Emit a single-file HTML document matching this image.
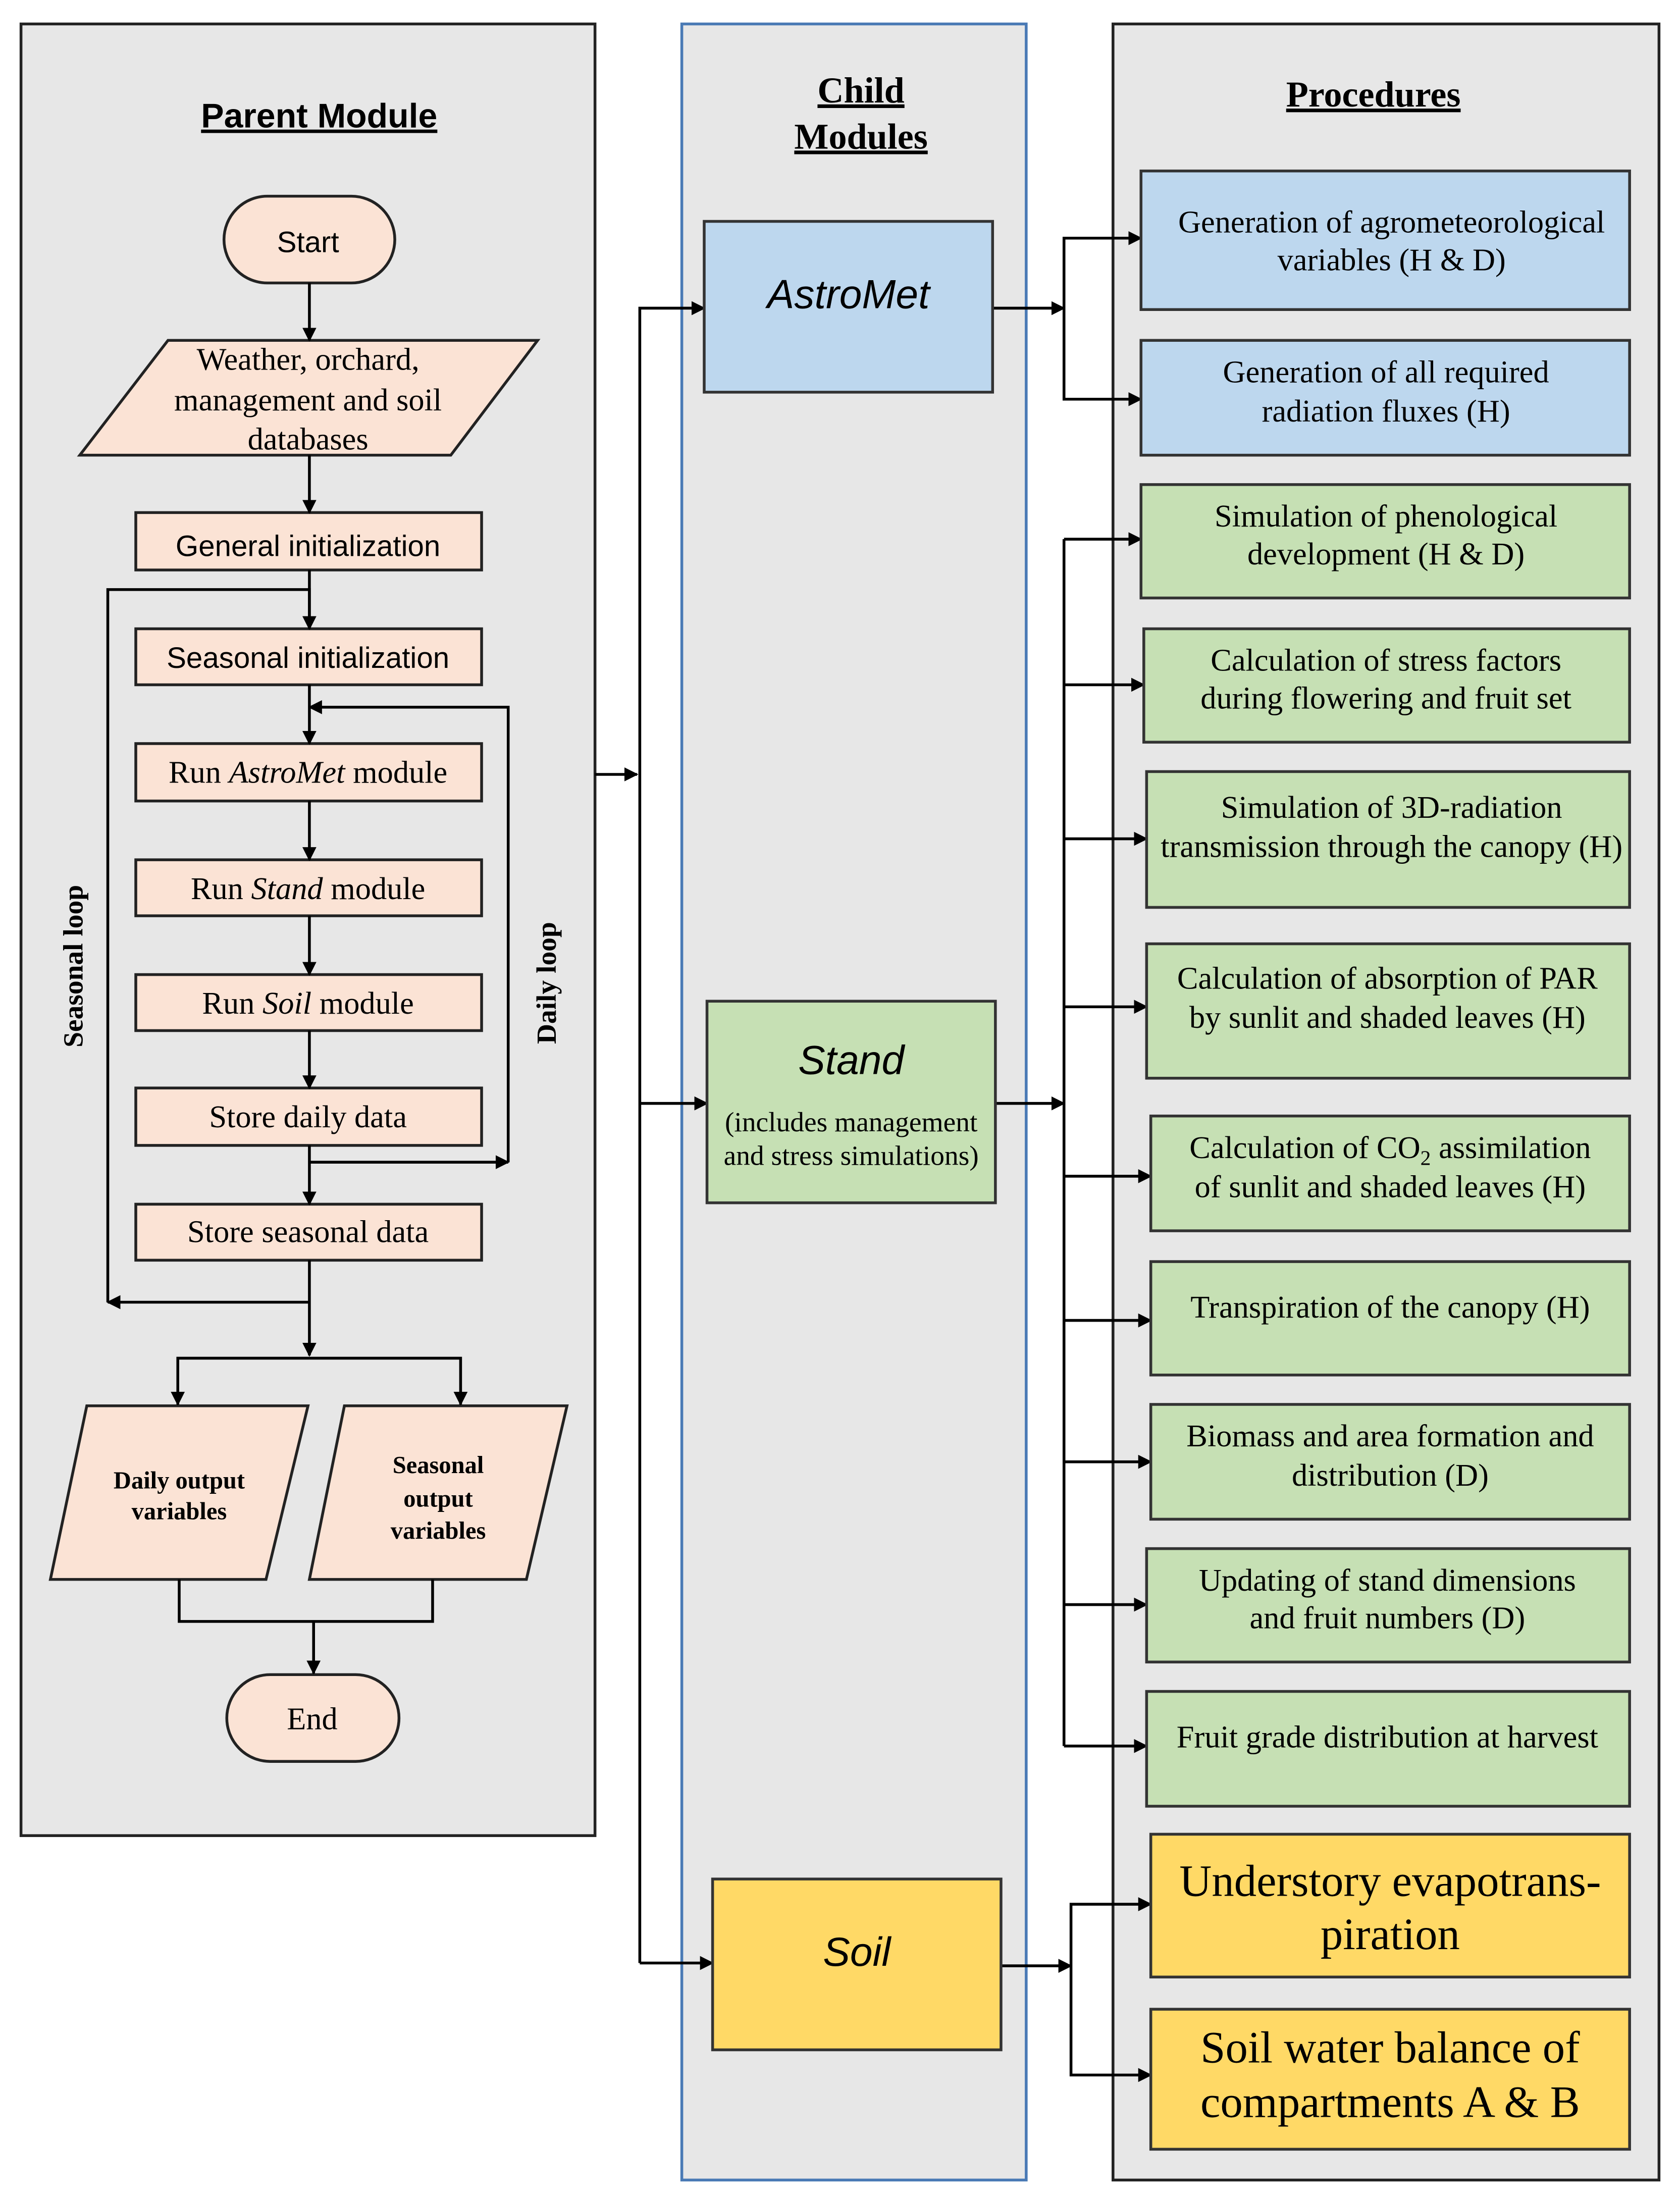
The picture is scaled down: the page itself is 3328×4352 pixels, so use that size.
<!DOCTYPE html>
<html><head><meta charset="utf-8"><style>
html,body{margin:0;padding:0;background:#fff}
svg{display:block}
.s{font-family:"Liberation Sans",sans-serif}
.r{font-family:"Liberation Serif",serif}
</style></head><body>
<svg width="3328" height="4352" viewBox="0 0 1200 1569" xmlns="http://www.w3.org/2000/svg">
<defs><marker id="a" markerWidth="10" markerHeight="10" refX="9" refY="5" orient="auto" markerUnits="userSpaceOnUse"><path d="M0,0 L10,5 L0,10 z" fill="#000"/></marker></defs>
<rect width="1200" height="1569" fill="#fff"/>
<rect x="15" y="17" width="410" height="1294" fill="#e7e7e7" stroke="#222" stroke-width="2"/>
<rect x="487" y="17" width="246" height="1540" fill="#e7e7e7" stroke="#4a7ab5" stroke-width="2"/>
<rect x="795" y="17" width="390" height="1540" fill="#e7e7e7" stroke="#222" stroke-width="2"/>

<text x="228" y="91" class="s" font-size="24.5" font-weight="bold" text-anchor="middle" text-decoration="underline">Parent Module</text>
<text x="615" y="73" class="r" font-size="26" font-weight="bold" text-anchor="middle" text-decoration="underline">Child</text>
<text x="615" y="106" class="r" font-size="26" font-weight="bold" text-anchor="middle" text-decoration="underline">Modules</text>
<text x="981" y="76" class="r" font-size="26" font-weight="bold" text-anchor="middle" text-decoration="underline">Procedures</text>

<g fill="#fbe3d5" stroke="#222" stroke-width="2">
<rect x="160" y="140" width="122" height="62" rx="31"/>
<polygon points="120,243 384,243 322,325 57,325"/>
<rect x="97" y="366" width="247" height="41"/>
<rect x="97" y="449" width="247" height="40"/>
<rect x="97" y="531" width="247" height="41"/>
<rect x="97" y="614" width="247" height="40"/>
<rect x="97" y="696" width="247" height="40"/>
<rect x="97" y="777" width="247" height="41"/>
<rect x="97" y="860" width="247" height="40"/>
<polygon points="62,1004 220,1004 190,1128 36,1128"/>
<polygon points="246,1004 405,1004 376,1128 221,1128"/>
<rect x="162" y="1196" width="123" height="62" rx="31"/>
</g>
<g font-size="22.5" text-anchor="middle">
<text x="220" y="180" class="s" font-size="21">Start</text>
<text x="220" y="264" class="r">Weather, orchard,</text>
<text x="220" y="293" class="r">management and soil</text>
<text x="220" y="321" class="r">databases</text>
<text x="220" y="397" class="s" font-size="21">General initialization</text>
<text x="220" y="477" class="s" font-size="21">Seasonal initialization</text>
<text x="220" y="559" class="r">Run <tspan font-style="italic">AstroMet</tspan> module</text>
<text x="220" y="642" class="r">Run <tspan font-style="italic">Stand</tspan> module</text>
<text x="220" y="724" class="r">Run <tspan font-style="italic">Soil</tspan> module</text>
<text x="220" y="805" class="r">Store daily data</text>
<text x="220" y="887" class="r">Store seasonal data</text>
<text x="223" y="1235" class="r">End</text>
</g>
<g class="r" font-size="17.5" font-weight="bold" text-anchor="middle">
<text x="128" y="1063">Daily output</text>
<text x="128" y="1085">variables</text>
<text x="313" y="1052">Seasonal</text>
<text x="313" y="1076">output</text>
<text x="313" y="1099">variables</text>
</g>
<text transform="translate(59,690) rotate(-90)" class="r" font-size="20" font-weight="bold" text-anchor="middle">Seasonal  loop</text>
<text transform="translate(397,702) rotate(-90)" class="r" font-size="20" font-weight="bold" text-anchor="middle">Daily  loop</text>

<g stroke="#000" stroke-width="2" fill="none" marker-end="url(#a)">
<line x1="221" y1="202" x2="221" y2="243"/>
<line x1="221" y1="325" x2="221" y2="366"/>
<line x1="221" y1="407" x2="221" y2="449"/>
<line x1="221" y1="489" x2="221" y2="531"/>
<line x1="221" y1="572" x2="221" y2="614"/>
<line x1="221" y1="654" x2="221" y2="696"/>
<line x1="221" y1="736" x2="221" y2="777"/>
<line x1="221" y1="818" x2="221" y2="860"/>
<line x1="221" y1="900" x2="221" y2="968"/>
<polyline points="221,930 77,930"/>
<polyline points="77,930 77,421 221,421 221,447" marker-end="none"/>
<polyline points="221,830 363,830"/>
<polyline points="363,830 363,505 221,505"/>
<polyline points="221,970 127,970 127,1003"/>
<polyline points="221,970 329,970 329,1003"/>
<polyline points="128,1128 128,1158 309,1158 309,1128" marker-end="none"/>
<line x1="224" y1="1158" x2="224" y2="1195"/>
<line x1="425" y1="553" x2="455" y2="553"/>
<polyline points="457,1402 457,220 503,220" />
<line x1="457" y1="788" x2="505" y2="788"/>
<line x1="457" y1="1402" x2="509" y2="1402"/>
<line x1="709" y1="220" x2="760" y2="220"/>
<polyline points="760,220 760,170 815,170"/>
<polyline points="760,220 760,285 815,285"/>
<line x1="711" y1="788" x2="760" y2="788"/>
<line x1="760" y1="385" x2="760" y2="1247" marker-end="none"/>
<line x1="760" y1="385" x2="815" y2="385"/>
<line x1="760" y1="489" x2="817" y2="489"/>
<line x1="760" y1="599" x2="819" y2="599"/>
<line x1="760" y1="719" x2="819" y2="719"/>
<line x1="760" y1="840" x2="822" y2="840"/>
<line x1="760" y1="943" x2="822" y2="943"/>
<line x1="760" y1="1044" x2="822" y2="1044"/>
<line x1="760" y1="1146" x2="819" y2="1146"/>
<line x1="760" y1="1247" x2="819" y2="1247"/>
<line x1="715" y1="1404" x2="765" y2="1404"/>
<polyline points="765,1404 765,1360 822,1360"/>
<polyline points="765,1404 765,1482 822,1482"/>
</g>

<g stroke="#333" stroke-width="2">
<rect x="503" y="158" width="206" height="122" fill="#bdd7ee"/>
<rect x="505" y="715" width="206" height="144" fill="#c6e0b4"/>
<rect x="509" y="1342" width="206" height="122" fill="#ffd966"/>
<rect x="815" y="122" width="349" height="99" fill="#bdd7ee"/>
<rect x="815" y="243" width="349" height="82" fill="#bdd7ee"/>
<rect x="815" y="346" width="349" height="81" fill="#c6e0b4"/>
<rect x="817" y="449" width="347" height="81" fill="#c6e0b4"/>
<rect x="819" y="551" width="345" height="97" fill="#c6e0b4"/>
<rect x="819" y="674" width="345" height="96" fill="#c6e0b4"/>
<rect x="822" y="797" width="342" height="82" fill="#c6e0b4"/>
<rect x="822" y="901" width="342" height="81" fill="#c6e0b4"/>
<rect x="822" y="1003" width="342" height="82" fill="#c6e0b4"/>
<rect x="819" y="1106" width="345" height="81" fill="#c6e0b4"/>
<rect x="819" y="1208" width="345" height="82" fill="#c6e0b4"/>
<rect x="822" y="1310" width="342" height="102" fill="#ffd966"/>
<rect x="822" y="1435" width="342" height="100" fill="#ffd966"/>
</g>
<g class="s" font-size="29" font-style="italic" text-anchor="middle">
<text x="606" y="220">AstroMet</text>
<text x="608" y="767">Stand</text>
<text x="612" y="1404">Soil</text>
</g>
<g class="r" font-size="20" text-anchor="middle">
<text x="608" y="808">(includes management</text>
<text x="608" y="832">and stress simulations)</text>
</g>
<g class="r" font-size="22.5" text-anchor="middle">
<text x="994" y="166">Generation of agrometeorological</text>
<text x="994" y="193">variables (H &amp; D)</text>
<text x="990" y="273">Generation of all required</text>
<text x="990" y="301">radiation fluxes (H)</text>
<text x="990" y="376">Simulation of phenological</text>
<text x="990" y="403">development (H &amp; D)</text>
<text x="990" y="479">Calculation of stress factors</text>
<text x="990" y="506">during flowering and fruit set</text>
<text x="994" y="584">Simulation of 3D-radiation</text>
<text x="994" y="612">transmission through the canopy (H)</text>
<text x="991" y="706">Calculation of absorption of PAR</text>
<text x="991" y="734">by sunlit and shaded leaves (H)</text>
<text x="993" y="827">Calculation of CO<tspan font-size="15" dy="5">2</tspan><tspan dy="-5"> assimilation</tspan></text>
<text x="993" y="855">of sunlit and shaded leaves (H)</text>
<text x="993" y="941">Transpiration of the canopy (H)</text>
<text x="993" y="1033">Biomass and area formation and</text>
<text x="993" y="1061">distribution (D)</text>
<text x="991" y="1136">Updating of stand dimensions</text>
<text x="991" y="1163">and fruit numbers (D)</text>
<text x="991" y="1248">Fruit grade distribution at harvest</text>
</g>
<g class="r" font-size="32" text-anchor="middle">
<text x="993" y="1354">Understory evapotrans-</text>
<text x="993" y="1392">piration</text>
<text x="993" y="1473">Soil water balance of</text>
<text x="993" y="1512">compartments A &amp; B</text>
</g>
</svg>
</body></html>
